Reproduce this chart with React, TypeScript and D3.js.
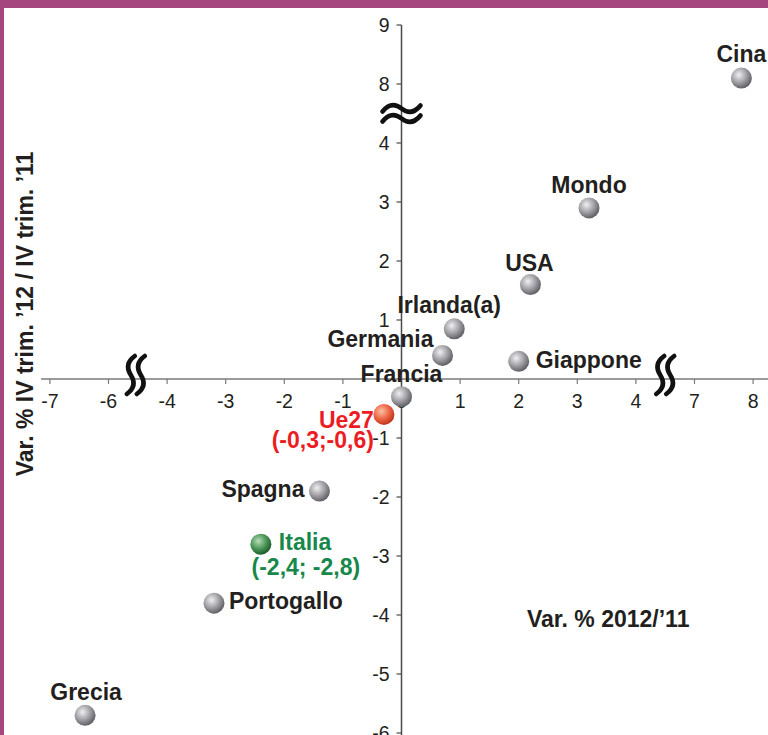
import { useEffect, useRef } from 'react'
import * as d3 from 'd3'

// Var. % 2012/'11 (x) and Var. % IV trim. '12 / IV trim. '11 (y)
const countries = ['Cina', 'Mondo', 'USA', 'Irlanda(a)', 'Germania', 'Giappone', 'Francia', 'Ue27', 'Spagna', 'Italia', 'Portogallo', 'Grecia']
const varAnnua = [7.8, 3.2, 2.2, 0.9, 0.7, 2.0, 0.0, -0.3, -1.4, -2.4, -3.2, -6.4]
const varTrim = [8.1, 2.9, 1.6, 0.85, 0.4, 0.3, -0.3, -0.6, -1.9, -2.8, -3.8, -5.7]
const subLabels: Record<string, string> = { Ue27: '(-0,3;-0,6)', Italia: '(-2,4; -2,8)' }

const xTicks = [-7, -6, -4, -3, -2, -1, 0, 1, 2, 3, 4, 7, 8]
const yTicks = [-6, -5, -4, -3, -2, -1, 1, 2, 3, 4, 8, 9]

// broken axes: domain pieces -> positions in "units"
const xDomain = [-7, -6, -4, 4, 7, 8]
const xUnits = [-6, -5, -4, 4, 5, 6]
const yDomain = [-6, 4, 8, 9]
const yUnits = [-6, 4, 5, 6]

const FONT = '"Liberation Sans", Arial, sans-serif'
const TEXT = '#231f20'
const PURPLE = '#a6467f'

type Anchor = 'start' | 'middle' | 'end'
const labelLayout: Record<string, { dx: number; dy: number; anchor: Anchor; sdx?: number; sdy?: number; sanchor?: Anchor }> = {
  'Cina': { dx: 0, dy: -16, anchor: 'middle' },
  'Mondo': { dx: 0, dy: -15, anchor: 'middle' },
  'USA': { dx: -1, dy: -14, anchor: 'middle' },
  'Irlanda(a)': { dx: -5, dy: -16, anchor: 'middle' },
  'Germania': { dx: -9, dy: -8, anchor: 'end' },
  'Giappone': { dx: 17, dy: 7, anchor: 'start' },
  'Francia': { dx: 0, dy: -15, anchor: 'middle' },
  'Ue27': { dx: -10, dy: 14, anchor: 'end', sdx: -10, sdy: 34, sanchor: 'end' },
  'Spagna': { dx: -15, dy: 6, anchor: 'end' },
  'Italia': { dx: 18, dy: 6, anchor: 'start', sdx: 45, sdy: 31, sanchor: 'middle' },
  'Portogallo': { dx: 15, dy: 6, anchor: 'start' },
  'Grecia': { dx: 1, dy: -15, anchor: 'middle' },
}

const ballColor: Record<string, string> = { Ue27: 'red', Italia: 'green' }
const labelColor: Record<string, string> = { Ue27: '#ed1c24', Italia: '#17884a' }

export default function App() {
  const svgRef = useRef<SVGSVGElement>(null)
  const width = 768
  const height = 735

  useEffect(() => {
    document.body.style.margin = '0'
    if (!svgRef.current) return
    const svg = d3.select(svgRef.current)
    svg.selectAll('*').remove()

    const x0 = 401.5
    const ux = 58.6
    const y0 = 379
    const uy = 59

    const x = d3.scaleLinear().domain(xDomain).range(xUnits.map((u) => x0 + u * ux))
    const y = d3.scaleLinear().domain(yDomain).range(yUnits.map((u) => y0 - u * uy))

    // gradients for the balls
    const defs = svg.append('defs')
    const grads: Record<string, string[]> = {
      grey: ['#f0f0f2', '#a2a2a7', '#616166'],
      red: ['#fbc2a6', '#ee6a48', '#c2361c'],
      green: ['#b9dcb9', '#4f9a5c', '#1e5e2c'],
    }
    Object.entries(grads).forEach(([k, c]) => {
      const g = defs.append('radialGradient')
        .attr('id', `ball-${k}`)
        .attr('cx', '38%').attr('cy', '35%').attr('r', '65%')
      g.append('stop').attr('offset', '0%').attr('stop-color', c[0])
      g.append('stop').attr('offset', '55%').attr('stop-color', c[1])
      g.append('stop').attr('offset', '100%').attr('stop-color', c[2])
    })

    // frame
    svg.append('rect').attr('x', 0).attr('y', 0).attr('width', width).attr('height', 8).attr('fill', PURPLE)
    svg.append('rect').attr('x', 0).attr('y', 0).attr('width', 4).attr('height', height).attr('fill', PURPLE)

    // x axis
    const xAxis = svg.append('g')
    xAxis.append('line')
      .attr('x1', 41).attr('x2', width)
      .attr('y1', y(0)).attr('y2', y(0))
      .attr('stroke', '#7a7a7a').attr('stroke-width', 1.5)
    xAxis.selectAll('line.tick')
      .data(xTicks)
      .join('line')
      .attr('class', 'tick')
      .attr('x1', (d) => x(d)).attr('x2', (d) => x(d))
      .attr('y1', y(0)).attr('y2', y(0) + 5)
      .attr('stroke', '#7a7a7a').attr('stroke-width', 1.2)
    xAxis.selectAll('text')
      .data(xTicks)
      .join('text')
      .attr('x', (d) => x(d))
      .attr('y', y(0) + 29)
      .attr('text-anchor', 'middle')
      .attr('font-family', FONT)
      .attr('font-size', 19.5)
      .attr('fill', TEXT)
      .text((d) => String(d))

    // y axis
    const yAxis = svg.append('g')
    yAxis.append('line')
      .attr('x1', x(0)).attr('x2', x(0))
      .attr('y1', y(9)).attr('y2', height)
      .attr('stroke', '#4a4a4a').attr('stroke-width', 1.5)
    yAxis.selectAll('line.tick')
      .data(yTicks)
      .join('line')
      .attr('class', 'tick')
      .attr('x1', x(0) - 5).attr('x2', x(0))
      .attr('y1', (d) => y(d)).attr('y2', (d) => y(d))
      .attr('stroke', '#4a4a4a').attr('stroke-width', 1.2)
    yAxis.selectAll('text')
      .data(yTicks)
      .join('text')
      .attr('x', x(0) - 12)
      .attr('y', (d) => y(d))
      .attr('dy', '0.36em')
      .attr('text-anchor', 'end')
      .attr('font-family', FONT)
      .attr('font-size', 19.5)
      .attr('fill', TEXT)
      .text((d) => String(d))

    // axis breaks
    const vBreak = (cx: number, cy: number) =>
      `M${cx + 4},${cy - 19} Q${cx - 7},${cy - 11} ${cx},${cy} Q${cx + 7},${cy + 11} ${cx - 4},${cy + 19}`
    const hBreak = (cx: number, cy: number) =>
      `M${cx - 19},${cy + 3} Q${cx - 10},${cy - 8} ${cx},${cy} Q${cx + 10},${cy + 8} ${cx + 19},${cy - 3}`
    const breaks = svg.append('g')
      .attr('fill', 'none').attr('stroke', '#111').attr('stroke-width', 4.6).attr('stroke-linecap', 'round')
    ;[(x(-6) + x(-4)) / 2 - 2, (x(4) + x(7)) / 2].forEach((bx) => {
      breaks.append('path').attr('d', vBreak(bx - 5, y(0) - 4))
      breaks.append('path').attr('d', vBreak(bx + 5, y(0) - 4))
    })
    const by = (y(4) + y(8)) / 2
    breaks.append('path').attr('d', hBreak(x(0), by - 5))
    breaks.append('path').attr('d', hBreak(x(0), by + 5))

    // axis titles
    svg.append('text')
      .attr('transform', `translate(33, 314) rotate(-90)`)
      .attr('text-anchor', 'middle')
      .attr('font-family', FONT)
      .attr('font-size', 23)
      .attr('font-weight', 'bold')
      .attr('fill', TEXT)
      .text('Var. % IV trim. ’12 / IV trim. ’11')
    svg.append('text')
      .attr('x', 527).attr('y', 627)
      .attr('font-family', FONT)
      .attr('font-size', 23)
      .attr('font-weight', 'bold')
      .attr('fill', TEXT)
      .text('Var. % 2012/’11')

    // points
    const pts = countries.map((c, i) => ({ name: c, vx: varAnnua[i], vy: varTrim[i] }))
    const g = svg.append('g')
    g.selectAll('circle')
      .data(pts)
      .join('circle')
      .attr('cx', (d) => x(d.vx))
      .attr('cy', (d) => y(d.vy))
      .attr('r', 10.5)
      .attr('fill', (d) => `url(#ball-${ballColor[d.name] ?? 'grey'})`)

    g.selectAll('text.lbl')
      .data(pts)
      .join('text')
      .attr('class', 'lbl')
      .attr('x', (d) => x(d.vx) + labelLayout[d.name].dx)
      .attr('y', (d) => y(d.vy) + labelLayout[d.name].dy)
      .attr('text-anchor', (d) => labelLayout[d.name].anchor)
      .attr('font-family', FONT)
      .attr('font-size', 23)
      .attr('font-weight', 'bold')
      .attr('fill', (d) => labelColor[d.name] ?? TEXT)
      .text((d) => d.name)

    g.selectAll('text.sub')
      .data(pts.filter((d) => subLabels[d.name]))
      .join('text')
      .attr('class', 'sub')
      .attr('x', (d) => x(d.vx) + (labelLayout[d.name].sdx ?? 0))
      .attr('y', (d) => y(d.vy) + (labelLayout[d.name].sdy ?? 0))
      .attr('text-anchor', (d) => labelLayout[d.name].sanchor ?? 'middle')
      .attr('font-family', FONT)
      .attr('font-size', 23)
      .attr('font-weight', 'bold')
      .attr('fill', (d) => labelColor[d.name])
      .text((d) => subLabels[d.name])
  }, [])

  return (
    <svg ref={svgRef} width={width} height={height} style={{ display: 'block', background: 'white' }} />
  )
}
